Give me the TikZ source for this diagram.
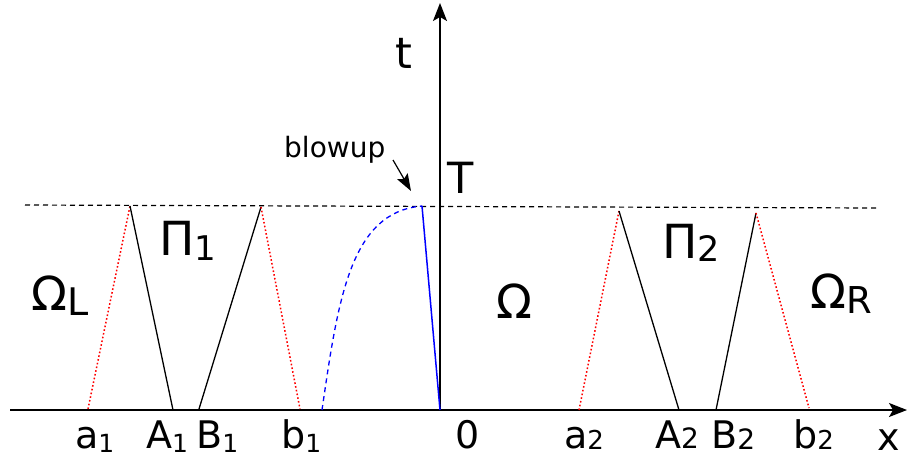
\documentclass[tikz,border=0pt]{standalone}
\usepackage{fontspec}
\setmainfont{DejaVu Sans}
\usetikzlibrary{arrows.meta}
\newcommand{\fs}[1]{\fontsize{#1}{#1}\selectfont}
\newcommand{\lsub}[3]{\raisebox{-#2pt}{\fs{#1}#3}}
\begin{document}
\begin{tikzpicture}[x=1pt,y=-1pt,
  lbl/.style={inner sep=0pt,anchor=base west,text depth=0pt},
  big/.style={lbl,font=\fs{47}},
  mid/.style={lbl,font=\fs{38}},
  axis/.style={line width=1.4pt,-{Stealth[length=18pt,width=14pt,inset=4pt]}},
  solidline/.style={line width=1.3pt,black},
  reddot/.style={red,line width=1.5pt,dash pattern=on 1.6pt off 2.2pt},
  toplevel/.style={line width=1.2pt,dash pattern=on 5pt off 4pt}]
\useasboundingbox (0,0) rectangle (907,459);
% key points
\coordinate (xs) at (10,410);
\coordinate (xe) at (907,410);
\coordinate (ts) at (440,410);
\coordinate (te) at (440,3);
\coordinate (dl) at (25,205);
\coordinate (dr) at (877,208);
\coordinate (a1) at (88,409);
\coordinate (p1) at (130,206);
\coordinate (A1) at (173,410);
\coordinate (B1) at (199,409);
\coordinate (q1) at (261,207);
\coordinate (b1) at (300,409);
\coordinate (c0) at (322,410);
\coordinate (c1) at (422,206);
\coordinate (o) at (440,410);
\coordinate (a2) at (579,410);
\coordinate (p2) at (619,211);
\coordinate (A2) at (679,410);
\coordinate (B2) at (716,410);
\coordinate (q2) at (756,213);
\coordinate (b2) at (809,408);
\coordinate (bs) at (393,160);
\coordinate (be) at (411,191);
% axes
\draw[axis] (xs) -- (xe);
\draw[axis] (ts) -- (te);
\draw[toplevel] (dl) -- (dr);
% left
\draw[reddot] (a1) -- (p1);
\draw[solidline] (p1) -- (A1);
\draw[solidline] (B1) -- (q1);
\draw[reddot] (q1) -- (b1);
% blue
\draw[blue,line width=1.3pt,dash pattern=on 5pt off 4pt] (c0) .. controls (338,300) and (350,212) .. (c1);
\draw[blue,line width=1.5pt] (c1) -- (o);
% right
\draw[reddot] (a2) -- (p2);
\draw[solidline] (p2) -- (A2);
\draw[solidline] (B2) -- (q2);
\draw[reddot] (q2) -- (b2);
% blowup arrow
\draw[line width=1.2pt,-{Stealth[length=17pt,width=12pt,inset=3pt]}] (bs) -- (be);
% labels
\node[lbl,font=\fs{43}] (tl) at (395,68) {t};
\node[lbl,font=\fs{43}] (Tl) at (447,193) {T};
\node[lbl,font=\fs{28}] (bl) at (284,157) {blowup};
\node[big] (OL) at (31,310) {Ω\lsub{38}{5}{L}};
\node[big] (P1) at (159,255) {Π\lsub{34}{5}{1}};
\node[big] (OM) at (496,318) {Ω};
\node[big] (P2) at (662,258) {Π\lsub{35}{3}{2}};
\node[big] (OR) at (810,308) {Ω\lsub{37}{5}{R}};
\node[mid] (la1) at (75,448) {a\lsub{25}{4}{1}};
\node[mid] (lA1) at (146,448) {A\lsub{25}{4}{1}};
\node[mid] (lB1) at (196,448) {B\lsub{25}{4}{1}};
\node[mid] (lb1) at (281,448) {b\lsub{25}{4}{1}};
\node[mid] (l0) at (455,448) {0};
\node[mid] (la2) at (564,448) {a\lsub{26}{1}{2}};
\node[mid] (lA2) at (655,448) {A\lsub{28}{0}{2}};
\node[mid] (lB2) at (711,448) {B\lsub{28}{1}{2}};
\node[mid] (lb2) at (793,448) {b\lsub{26}{1}{2}};
\node[mid] (lx) at (877,450) {x};
\end{tikzpicture}
\end{document}
